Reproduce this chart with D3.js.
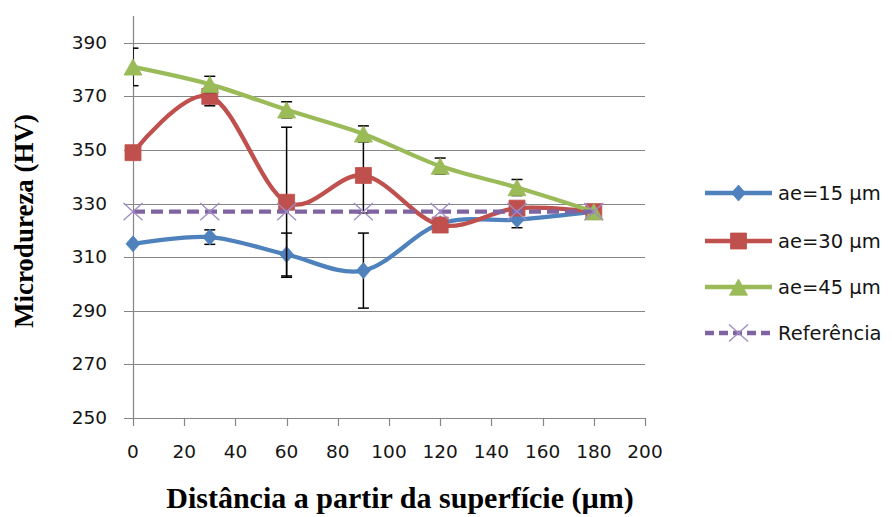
<!DOCTYPE html>
<html>
<head>
<meta charset="utf-8">
<script src="https://cdn.jsdelivr.net/npm/d3@7"></script>
<style>
  html, body { margin: 0; padding: 0; background: #fff; }
  svg { display: block; }
</style>
</head>
<body>
<svg id="chart" width="892" height="517"></svg>
<script>
// Distance from surface (µm)
const distances = [0, 30, 60, 90, 120, 150, 180];

// Microhardness (HV) per depth of cut
const ae15 = [315, 317.5, 311, 305, 322.5, 324, 327];
const ae30 = [349, 370, 330.5, 340.5, 322, 328.3, 327];
const ae45 = [381, 374.5, 365, 356, 344, 336, 327];
const referencia = [327, 327, 327, 327, 327, 327, 327];

// Standard deviations (null = no bar)
const ae15Err = [null, 2.7, 8, 14, null, 3, null];
const ae30Err = [null, 3.5, 28, 14, null, null, null];
const ae45Err = [7, 3, 3, 3, 3, 3, null];

const yTicks = [250, 270, 290, 310, 330, 350, 370, 390];
const xTicks = [0, 20, 40, 60, 80, 100, 120, 140, 160, 180, 200];

const seriesNames = ["ae=15 µm", "ae=30 µm", "ae=45 µm", "Referência"];
const seriesColors = ["#4F81BD", "#C0504D", "#9BBB59", "#8064A2"];

const svg = d3.select("#chart");
const plotLeft = 133, plotRight = 645, plotTop = 16, plotBottom = 418;

const x = d3.scaleLinear().domain([0, 200]).range([plotLeft, plotRight]);
const y = d3.scaleLinear().domain([250, 400]).range([plotBottom, plotTop]);

const grid = "#868686";
const labelFont = "'DejaVu Sans', sans-serif";
const titleFont = "'Liberation Serif', 'Times New Roman', serif";

// Horizontal gridlines with outward ticks
svg.append("g").selectAll("line").data(yTicks).join("line")
  .attr("x1", plotLeft - 9).attr("x2", plotRight)
  .attr("y1", d => Math.round(y(d)) + 0.5).attr("y2", d => Math.round(y(d)) + 0.5)
  .attr("stroke", grid).attr("stroke-width", 1.2);

// Vertical axis
svg.append("line")
  .attr("x1", plotLeft + 0.5).attr("x2", plotLeft + 0.5)
  .attr("y1", plotTop).attr("y2", plotBottom)
  .attr("stroke", grid).attr("stroke-width", 1.2);

// X axis ticks
svg.append("g").selectAll("line").data(xTicks).join("line")
  .attr("x1", d => Math.round(x(d)) + 0.5).attr("x2", d => Math.round(x(d)) + 0.5)
  .attr("y1", plotBottom).attr("y2", plotBottom + 8)
  .attr("stroke", grid).attr("stroke-width", 1.2);

// Tick labels
svg.append("g").selectAll("text").data(yTicks).join("text")
  .attr("x", 107).attr("y", d => y(d) + 6)
  .attr("text-anchor", "end")
  .attr("font-family", labelFont).attr("font-size", 18.5).attr("fill", "#151515")
  .text(d => d);

svg.append("g").selectAll("text").data(xTicks).join("text")
  .attr("x", d => x(d)).attr("y", 458)
  .attr("text-anchor", "middle")
  .attr("font-family", labelFont).attr("font-size", 18.5).attr("fill", "#151515")
  .text(d => d);

// Axis titles
svg.append("text")
  .attr("transform", "translate(33,221) rotate(-90)")
  .attr("text-anchor", "middle")
  .attr("font-family", titleFont)
  .attr("font-weight", "bold").attr("font-size", 27).attr("fill", "#000")
  .text("Microdureza (HV)");

svg.append("text")
  .attr("x", 400).attr("y", 508)
  .attr("text-anchor", "middle")
  .attr("font-family", titleFont)
  .attr("font-weight", "bold").attr("font-size", 30).attr("fill", "#000")
  .text("Distância a partir da superfície (µm)");

// Clip for error bars
svg.append("clipPath").attr("id", "plotClip")
  .append("rect").attr("x", plotLeft).attr("y", 0).attr("width", plotRight - plotLeft + 10).attr("height", plotBottom);

const line = d3.line()
  .x((d, i) => x(distances[i]))
  .y(d => y(d))
  .curve(d3.curveCatmullRom.alpha(0));

function errorBars(values, errs) {
  const g = svg.append("g").attr("clip-path", "url(#plotClip)");
  values.forEach((v, i) => {
    const e = errs[i];
    if (e == null) return;
    const cx = x(distances[i]);
    const y1 = y(v + e), y2 = y(v - e);
    g.append("line").attr("x1", cx).attr("x2", cx).attr("y1", y1).attr("y2", y2)
      .attr("stroke", "#000").attr("stroke-width", 1.5);
    [y1, y2].forEach(yy => g.append("line")
      .attr("x1", cx - 5.5).attr("x2", cx + 5.5).attr("y1", yy).attr("y2", yy)
      .attr("stroke", "#000").attr("stroke-width", 1.5));
  });
}

// Marker shapes; the symbol size is used as the half-width in pixels
const shapes = {
  diamond: { draw(ctx, r) { ctx.moveTo(0, -r - 1); ctx.lineTo(r, 0); ctx.lineTo(0, r + 1); ctx.lineTo(-r, 0); ctx.closePath(); } },
  square: { draw(ctx, r) { ctx.rect(-r, -r, 2 * r, 2 * r); } },
  triangle: { draw(ctx, r) { ctx.moveTo(0, -r); ctx.lineTo(r, r * 0.8); ctx.lineTo(-r, r * 0.8); ctx.closePath(); } },
  cross: { draw(ctx, r) { ctx.moveTo(-r, -r * 0.9); ctx.lineTo(r, r * 0.9); ctx.moveTo(r, -r * 0.9); ctx.lineTo(-r, r * 0.9); } }
};
const markerSize = { diamond: 7, square: 8, triangle: 9, cross: 9.5 };

function drawMarker(g, kind, color, cx, cy) {
  const d = d3.symbol().type(shapes[kind]).size(markerSize[kind])();
  const p = g.append("path").attr("d", d).attr("transform", `translate(${cx},${cy + (kind === "triangle" ? 1 : 0)})`);
  if (kind === "cross") {
    p.attr("fill", "none").attr("stroke", "#A08BC4").attr("stroke-width", 1.3);
  } else {
    p.attr("fill", color).attr("stroke", color).attr("stroke-width", 0.8);
  }
}

function drawSeries(values, errs, color, kind, dashed) {
  if (errs) errorBars(values, errs);
  const g = svg.append("g");
  g.append("path").datum(values)
    .attr("d", dashed ? d3.line().x((d, i) => x(distances[i])).y(d => y(d))(values) : line(values))
    .attr("fill", "none").attr("stroke", color).attr("stroke-width", 4.3)
    .attr("stroke-linecap", dashed ? "butt" : "round")
    .attr("stroke-dasharray", dashed ? "12,6" : null);
  values.forEach((v, i) => drawMarker(g, kind, color, x(distances[i]), y(v)));
}

drawSeries(ae15, ae15Err, seriesColors[0], "diamond", false);
drawSeries(ae30, ae30Err, seriesColors[1], "square", false);
drawSeries(ae45, ae45Err, seriesColors[2], "triangle", false);
drawSeries(referencia, null, seriesColors[3], "cross", true);

// Legend
const kinds = ["diamond", "square", "triangle", "cross"];
const legendY = [193, 241, 287, 333];
seriesNames.forEach((name, i) => {
  const g = svg.append("g");
  const yy = legendY[i];
  g.append("line").attr("x1", 705).attr("x2", 772).attr("y1", yy).attr("y2", yy)
    .attr("stroke", seriesColors[i]).attr("stroke-width", 4.3)
    .attr("stroke-dasharray", i === 3 ? "9,5" : null);
  drawMarker(g, kinds[i], seriesColors[i], 738.5, yy);
  g.append("text").attr("x", 778).attr("y", yy + 7)
    .attr("font-family", labelFont).attr("font-size", 19.5).attr("fill", "#151515")
    .text(name);
});
</script>
</body>
</html>
